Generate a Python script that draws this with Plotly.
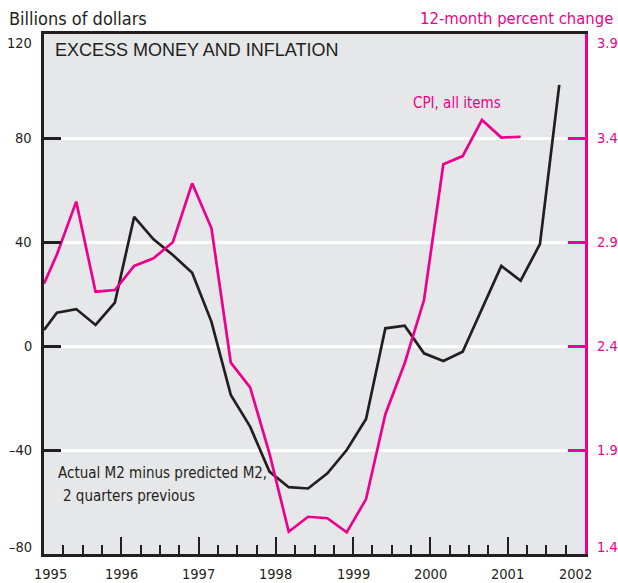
import plotly.graph_objects as go

# ---- data ----
dates = [1995.0, 1995.167, 1995.417, 1995.667, 1995.917, 1996.167, 1996.417, 1996.667, 1996.917,
         1997.167, 1997.417, 1997.667, 1997.917, 1998.167, 1998.417, 1998.667, 1998.917,
         1999.167, 1999.417, 1999.667, 1999.917, 2000.167, 2000.417, 2000.667, 2000.917,
         2001.167, 2001.417, 2001.667]

excess_m2 = [6.2, 12.8, 14.2, 8.1, 16.7, 49.7, 41.0, 35.0, 28.2,
             9.3, -18.8, -31.0, -48.3, -54.3, -54.8, -49.0, -40.0,
             -28.1, 6.8, 7.8, -2.8, -5.8, -2.2, 14.3, 30.8,
             25.1, 39.2, 100.4]

cpi = [2.70, 2.84, 3.094, 2.661, 2.669, 2.785, 2.822, 2.899, 3.182,
       2.966, 2.320, 2.201, 1.884, 1.507, 1.579, 1.572, 1.504,
       1.664, 2.072, 2.317, 2.621, 3.274, 3.313, 3.487, 3.402,
       3.406]

years = [1995, 1996, 1997, 1998, 1999, 2000, 2001, 2002]
year_labels = ["1995", "1996", "1997", "1998", "1999", "2000", "2001", "2002"]
left_ticks = [120, 80, 40, 0, -40, -80]
left_labels = ["120", "80", "40", "0", "\u201340", "\u201380"]
right_ticks = [3.9, 3.4, 2.9, 2.4, 1.9, 1.4]
right_labels = ["3.9", "3.4", "2.9", "2.4", "1.9", "1.4"]

DARK = "#231f20"
MAG = "#ec008c"
BG = "#e6e7e8"
COND = "DejaVu Sans Condensed, Liberation Sans Narrow, Arial Narrow, sans-serif"
REG = "Liberation Sans, Arial, Helvetica, sans-serif"

fig = go.Figure()
fig.add_trace(go.Scatter(x=dates, y=excess_m2, mode="lines",
                         line=dict(color=DARK, width=2.7), yaxis="y", showlegend=False,
                         hoverinfo="skip"))
fig.add_trace(go.Scatter(x=dates[:len(cpi)], y=cpi, mode="lines",
                         line=dict(color=MAG, width=2.7), yaxis="y2", showlegend=False,
                         hoverinfo="skip"))

fig.update_layout(
    width=618, height=583, autosize=False,
    margin=dict(l=44, r=33, t=34, b=29),
    paper_bgcolor="white", plot_bgcolor=BG,
    xaxis=dict(range=[1995, 2002], showgrid=False, zeroline=False,
               showline=True, linecolor=DARK, linewidth=3, mirror=True,
               ticks="inside", tickvals=years, ticklen=17, tickwidth=2, tickcolor=DARK,
               showticklabels=False,
               minor=dict(tick0=1995, dtick=0.25, ticks="inside", ticklen=9, tickwidth=2,
                          tickcolor=DARK, showgrid=False)),
    yaxis=dict(range=[-80, 120], showgrid=True, gridcolor="white", gridwidth=3,
               zeroline=False, showline=True, linecolor=DARK, linewidth=3,
               ticks="inside", tickvals=[80, 40, 0, -40], ticklen=17, tickwidth=3,
               tickcolor=DARK, showticklabels=False),
    yaxis2=dict(range=[1.4, 3.9], overlaying="y", side="right", showgrid=False,
                zeroline=False, showline=True, linecolor=MAG, linewidth=3,
                ticks="inside", tickvals=[3.4, 2.9, 2.4, 1.9], ticklen=17, tickwidth=3,
                tickcolor=MAG, showticklabels=False),
)

ann = []
# left tick labels
for v, t in zip(left_ticks, left_labels):
    ys = -9 if v == 120 else (7 if v == -80 else 0)
    ann.append(dict(x=0, xref="paper", y=v, yref="y", text=t, showarrow=False,
                    xanchor="right", yanchor="middle", xshift=-10, yshift=ys,
                    font=dict(family=COND, size=14.5, color=DARK)))
# right tick labels
for v, t in zip(right_ticks, right_labels):
    ys = -9 if v == 3.9 else (7 if v == 1.4 else 0)
    ann.append(dict(x=1, xref="paper", y=v, yref="y2", text=t, showarrow=False,
                    xanchor="left", yanchor="middle", xshift=10, yshift=ys,
                    font=dict(family=COND, size=14.5, color=MAG)))
# bottom tick labels
for v, t in zip(years, year_labels):
    xs = 6 if v == 1995 else (-10 if v == 2002 else 0)
    ann.append(dict(x=v, xref="x", y=0, yref="paper", text=t, showarrow=False,
                    xanchor="center", yanchor="middle", xshift=xs, yshift=-20,
                    font=dict(family=COND, size=14.5, color=DARK)))

ann.append(dict(x=0, xref="paper", y=1, yref="paper", text="Billions of dollars",
                showarrow=False, xanchor="left", yanchor="middle", xshift=-37, yshift=16,
                font=dict(family=COND, size=18, color=DARK)))
ann.append(dict(x=1, xref="paper", y=1, yref="paper", text="12-month percent change",
                showarrow=False, xanchor="right", yanchor="middle", xshift=30, yshift=16,
                font=dict(family=COND, size=16.5, color=MAG)))
ann.append(dict(x=0, xref="paper", y=1, yref="paper", text="EXCESS MONEY AND INFLATION",
                showarrow=False, xanchor="left", yanchor="middle", xshift=9, yshift=-16,
                font=dict(family=REG, size=18, color=DARK)))
ann.append(dict(x=0.6806, xref="paper", y=0.868, yref="paper", text="CPI, all items",
                showarrow=False, xanchor="left", yanchor="middle", xshift=-1,
                font=dict(family=COND, size=15, color=MAG)))
ann.append(dict(x=0, xref="paper", y=0.1558, yref="paper",
                text="Actual M2 minus predicted M2,",
                showarrow=False, xanchor="left", yanchor="middle", xshift=12,
                font=dict(family=COND, size=15, color=DARK)))
ann.append(dict(x=0, xref="paper", y=0.1125, yref="paper",
                text="2 quarters previous",
                showarrow=False, xanchor="left", yanchor="middle", xshift=17,
                font=dict(family=COND, size=15, color=DARK)))

fig.update_layout(annotations=ann, hovermode=False)
# remove the default 8px page margin so the 618x583 figure fills the window exactly
fig.write_html("out.html", config={"displayModeBar": False},
               post_script="document.body.style.margin='0';")
